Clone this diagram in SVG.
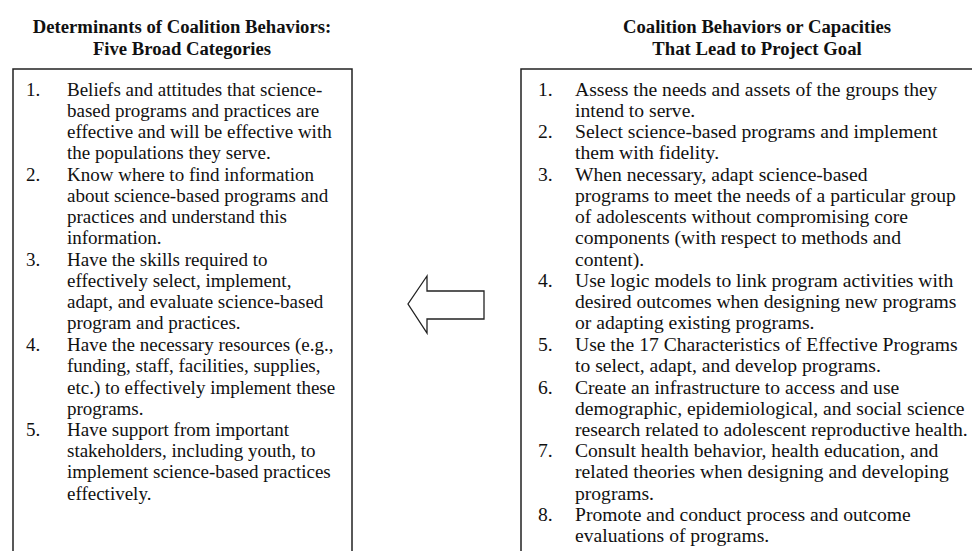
<svg xmlns="http://www.w3.org/2000/svg" width="972" height="551" viewBox="0 0 972 551">
<style>
.t{font-family:"Liberation Serif","Times New Roman",serif;font-size:19px;fill:#111}
.r{font-size:19.6px}
.h{font-family:"Liberation Serif","Times New Roman",serif;font-size:18.7px;font-weight:bold;fill:#111;text-anchor:middle}
.box{fill:#fff;stroke:#222;stroke-width:1.5}
</style>
<rect width="972" height="551" fill="#fff"/>
<g id="left">
<text class="h" x="182" y="33">Determinants of Coalition Behaviors:</text>
<text class="h" x="182" y="55">Five Broad Categories</text>
<rect class="box" x="13" y="69" width="339" height="500"/>
<g class="t">
<text x="26" y="96">1.</text><text x="67" y="96">Beliefs and attitudes that science-</text>
<text x="67" y="117">based programs and practices are</text>
<text x="67" y="138">effective and will be effective with</text>
<text x="67" y="159">the populations they serve.</text>
<text x="26" y="181">2.</text><text x="67" y="181">Know where to find information</text>
<text x="67" y="202">about science-based programs and</text>
<text x="67" y="223">practices and understand this</text>
<text x="67" y="244">information.</text>
<text x="26" y="266">3.</text><text x="67" y="266">Have the skills required to</text>
<text x="67" y="287">effectively select, implement,</text>
<text x="67" y="308">adapt, and evaluate science-based</text>
<text x="67" y="329">program and practices.</text>
<text x="26" y="351">4.</text><text x="67" y="351">Have the necessary resources (e.g.,</text>
<text x="67" y="372">funding, staff, facilities, supplies,</text>
<text x="67" y="394">etc.) to effectively implement these</text>
<text x="67" y="415">programs.</text>
<text x="26" y="436">5.</text><text x="67" y="436">Have support from important</text>
<text x="67" y="457">stakeholders, including youth, to</text>
<text x="67" y="478">implement science-based practices</text>
<text x="67" y="500">effectively.</text>
</g>
</g>
<g id="right">
<text class="h" x="757" y="33">Coalition Behaviors or Capacities</text>
<text class="h" x="757" y="55">That Lead to Project Goal</text>
<rect class="box" x="521" y="69" width="480" height="500"/>
<g class="t r">
<text x="538" y="96">1.</text><text x="575" y="96">Assess the needs and assets of the groups they</text>
<text x="575" y="117">intend to serve.</text>
<text x="538" y="138">2.</text><text x="575" y="138">Select science-based programs and implement</text>
<text x="575" y="159">them with fidelity.</text>
<text x="538" y="181">3.</text><text x="575" y="181">When necessary, adapt science-based</text>
<text x="575" y="202">programs to meet the needs of a particular group</text>
<text x="575" y="223">of adolescents without compromising core</text>
<text x="575" y="244">components (with respect to methods and</text>
<text x="575" y="266">content).</text>
<text x="538" y="287">4.</text><text x="575" y="287">Use logic models to link program activities with</text>
<text x="575" y="308">desired outcomes when designing new programs</text>
<text x="575" y="329">or adapting existing programs.</text>
<text x="538" y="351">5.</text><text x="575" y="351">Use the 17 Characteristics of Effective Programs</text>
<text x="575" y="372">to select, adapt, and develop programs.</text>
<text x="538" y="394">6.</text><text x="575" y="394">Create an infrastructure to access and use</text>
<text x="575" y="415">demographic, epidemiological, and social science</text>
<text x="575" y="436">research related to adolescent reproductive health.</text>
<text x="538" y="457">7.</text><text x="575" y="457">Consult health behavior, health education, and</text>
<text x="575" y="478">related theories when designing and developing</text>
<text x="575" y="500">programs.</text>
<text x="538" y="521">8.</text><text x="575" y="521">Promote and conduct process and outcome</text>
<text x="575" y="542">evaluations of programs.</text>
</g>
</g>
<g id="connectors">
<path d="M484,291 L427,291 L427,276 L408,304 L427,333 L427,319 L484,319 Z" fill="#fff" stroke="#222" stroke-width="1.3" stroke-linejoin="miter"/>
</g>
</svg>
